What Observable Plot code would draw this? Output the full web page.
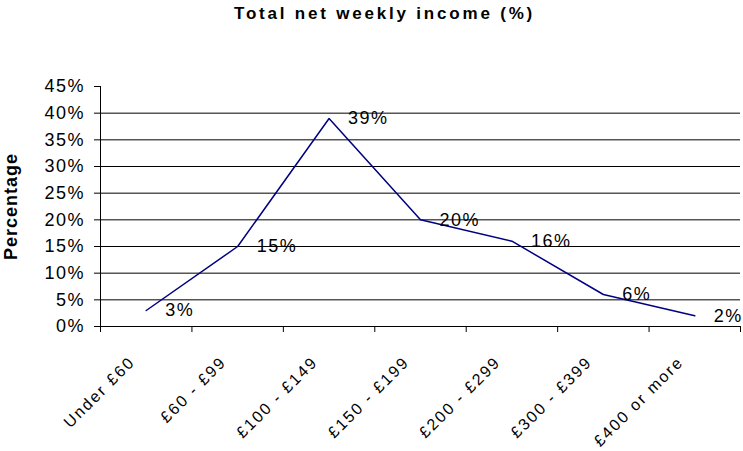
<!DOCTYPE html>
<html><head><meta charset="utf-8">
<script src="https://cdn.jsdelivr.net/npm/d3@7"></script>
<script src="https://cdn.jsdelivr.net/npm/@observablehq/plot@0.6"></script>
<style>body{margin:0;background:#fff;font-family:"Liberation Sans",Arial,sans-serif}</style>
</head><body><div id="chart"></div>
<script>
const categories = ["Under £60","£60 - £99","£100 - £149","£150 - £199","£200 - £299","£300 - £399","£400 or more"];
const values = [3,15,39,20,16,6,2];
const yTicks = [0,5,10,15,20,25,30,35,40,45];
const gridTicks = [5,10,15,20,25,30,35,40];
const title = "Total net weekly income (%)";
const yLabel = "Percentage";

const data = categories.map((c,i)=>({c, i, x: i+0.5, v: values[i]}));
const font = "Liberation Sans, Arial, sans-serif";
const chart = Plot.plot({
  width: 743, height: 451,
  marginTop: 86, marginBottom: 125, marginLeft: 100, marginRight: 3,
  style: {fontFamily: font, background: "#fff", color: "#000", letterSpacing: "1.5px"},
  x: {domain: [0, categories.length], axis: null},
  y: {domain: [0, 45], axis: null},
  marks: [
    Plot.ruleY(gridTicks, {stroke: "#000", strokeWidth: 1}),
    Plot.ruleY([0], {stroke: "#000", strokeWidth: 1}),
    Plot.ruleX([0], {stroke: "#000", strokeWidth: 1}),
    Plot.axisY({ticks: yTicks, label: null, tickSize: 6, tickPadding: 9.5, tickFormat: d => d + "%", fontSize: 18, stroke: "#000"}),
    Plot.axisX({ticks: d3.range(categories.length + 1), label: null, tickSize: 6, tickFormat: () => "", stroke: "#000"}),
    Plot.text(data, {x: "x", y: 0, text: "c", rotate: -45, textAnchor: "end", dx: -14, dy: 33, fontSize: 16, fill: "#000"}),
    Plot.line(data, {x: "x", y: "v", stroke: "#000080", strokeWidth: 1.5}),
    Plot.text(data, {x: "x", y: "v", text: d => d.v + "%", textAnchor: "start", dx: 19, fontSize: 18, fill: "#000"}),
    Plot.text([yLabel], {frameAnchor: "left", lineAnchor: "middle", textAnchor: "middle", dx: -89, rotate: -90, fontWeight: "bold", fontSize: 18, fill: "#000"}),
    Plot.text([title], {frameAnchor: "top", lineAnchor: "middle", dx: -36, dy: -73, fontWeight: "bold", fontSize: 17, fill: "#000"})
  ]
});
const sel = d3.select(chart).selectAll("text");
sel.filter(function(){ return this.textContent === title; }).style("letter-spacing", "2.8px");
sel.filter(function(){ return this.textContent === yLabel; }).style("letter-spacing", "1px");
sel.filter(function(){ return categories.includes(this.textContent); }).style("letter-spacing", "2px");
document.getElementById("chart").append(chart);
</script></body></html>
